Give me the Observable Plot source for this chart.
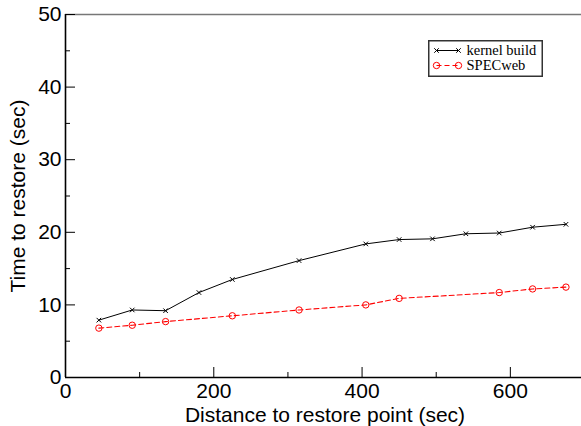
<!DOCTYPE html>
<html>
<head>
<meta charset="utf-8">
<script src="https://cdn.jsdelivr.net/npm/d3@7"></script>
<script src="https://cdn.jsdelivr.net/npm/@observablehq/plot@0.6"></script>
<style>
  html, body { margin: 0; padding: 0; background: white; }
  #wrap { position: relative; width: 581px; height: 426px; overflow: hidden; }
  #legend { position: absolute; left: 428px; top: 40px; }
</style>
</head>
<body>
<div id="wrap"></div>
<script>
const xTicks = [0, 200, 400, 600];
const xMinor = [100, 300, 500];
const yTicks = [0, 10, 20, 30, 40, 50];
const yMinor = [5, 15, 25, 35, 45];

const kernelDistance = [45, 90, 135, 180, 225, 315, 405, 450, 495, 540, 585, 630, 675];
const kernelBuild = [7.9, 9.3, 9.2, 11.7, 13.5, 16.1, 18.4, 19.0, 19.1, 19.8, 19.9, 20.7, 21.1];
const specDistance = [45, 90, 135, 225, 315, 405, 450, 585, 630, 675];
const specweb = [6.8, 7.2, 7.7, 8.5, 9.3, 10.0, 10.9, 11.7, 12.2, 12.45];

const seriesNames = ["kernel build", "SPECweb"];

const kernelData = kernelDistance.map((d, i) => ({x: d, y: kernelBuild[i]}));
const specData = specDistance.map((d, i) => ({x: d, y: specweb[i]}));

const chart = Plot.plot({
  width: 581,
  height: 426,
  marginLeft: 65,
  marginRight: -3,
  marginTop: 14,
  marginBottom: 49,
  style: {fontFamily: "'Liberation Sans', Arial, sans-serif", fontSize: "21px", background: "white", color: "black", overflow: "visible"},
  x: {domain: [0, 700]},
  y: {domain: [0, 50]},
  marks: [
    Plot.ruleY([50], {stroke: "#777", strokeWidth: 1.6}),
    Plot.axisX(xTicks, {tickSize: -10, fill: null, strokeWidth: 1}),
    Plot.axisX(xMinor, {tickSize: -5, fill: null, strokeWidth: 1}),
    Plot.axisY(yTicks, {tickSize: -10, fill: null, strokeWidth: 1}),
    Plot.axisY(yMinor, {tickSize: -5, fill: null, strokeWidth: 1}),
    Plot.axisX(xTicks, {tickSize: 0, tickPadding: 6, label: "Distance to restore point (sec)", labelAnchor: "center", labelArrow: "none", labelOffset: 44}),
    Plot.axisY(yTicks, {tickSize: 0, tickPadding: 4, label: "Time to restore (sec)", labelAnchor: "center", labelArrow: "none", labelOffset: 55}),
    Plot.ruleX([0], {strokeWidth: 1.6}),
    Plot.ruleY([0], {strokeWidth: 1.6}),
    Plot.line(kernelData, {x: "x", y: "y", stroke: "black", strokeWidth: 1}),
    Plot.dot(kernelData, {x: "x", y: "y", symbol: "times", r: 2.2, stroke: "black", strokeWidth: 1}),
    Plot.line(specData, {x: "x", y: "y", stroke: "#ff0000", strokeWidth: 1.1, strokeDasharray: "5,3"}),
    Plot.dot(specData, {x: "x", y: "y", symbol: "circle", r: 3.2, stroke: "#ff0000", fill: "none", strokeWidth: 1})
  ]
});
document.getElementById("wrap").appendChild(chart);

// Legend
const legend = d3.select("#wrap").append("svg")
  .attr("id", "legend")
  .attr("width", 116).attr("height", 38);
legend.append("rect").attr("x", 0.75).attr("y", 0.75).attr("width", 113.5).attr("height", 35.5)
  .attr("fill", "white").attr("stroke", "#333").attr("stroke-width", 1.5);
const rows = [
  {name: seriesNames[0], y: 10.5, color: "black", dash: null, sym: "times"},
  {name: seriesNames[1], y: 25.5, color: "#ff0000", dash: "5,3", sym: "circle"}
];
rows.forEach(r => {
  legend.append("line").attr("x1", 8.5).attr("x2", 30.5).attr("y1", r.y).attr("y2", r.y)
    .attr("stroke", r.color).attr("stroke-width", 1).attr("stroke-dasharray", r.dash);
  [8.5, 30.5].forEach(cx => {
    if (r.sym === "times") {
      legend.append("path").attr("d", d3.symbol(d3.symbolTimes, 15.2)()).attr("transform", `translate(${cx},${r.y})`)
        .attr("stroke", r.color).attr("fill", "none");
    } else {
      legend.append("circle").attr("cx", cx).attr("cy", r.y).attr("r", 3.2)
        .attr("stroke", r.color).attr("fill", "none");
    }
  });
  legend.append("text").attr("x", 38.5).attr("y", r.y + 4.8)
    .attr("font-family", "'Liberation Serif', 'Times New Roman', serif").attr("font-size", "14.5px")
    .attr("fill", "black").text(r.name);
});
</script>
</body>
</html>
